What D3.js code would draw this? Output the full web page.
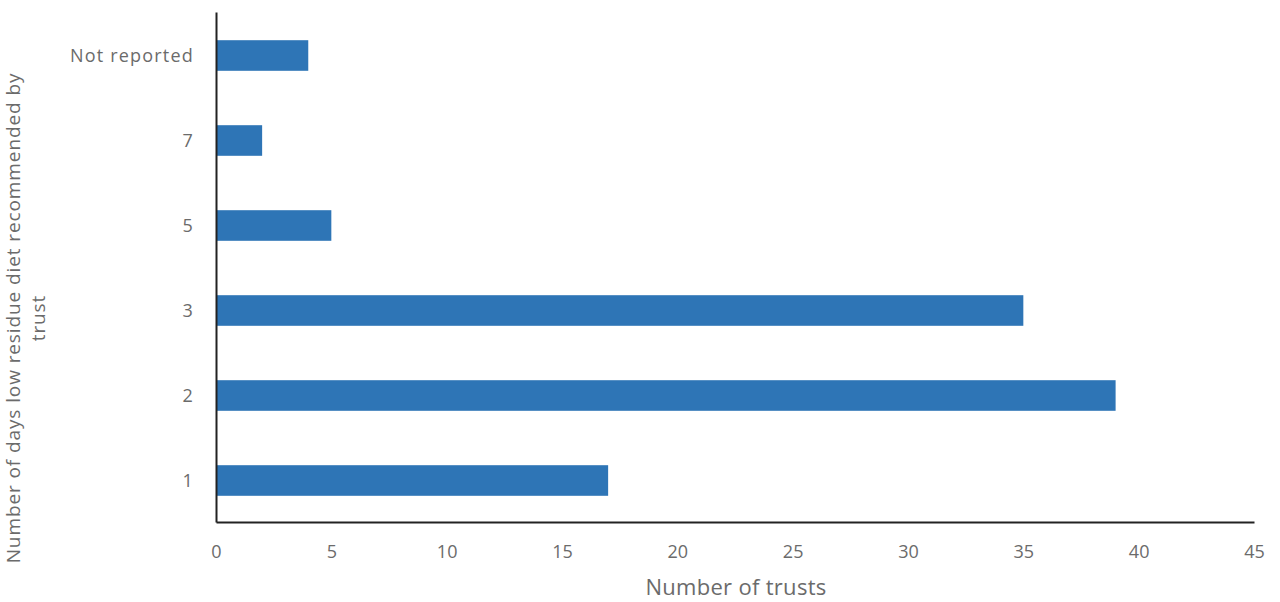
<!DOCTYPE html>
<html><head><meta charset="utf-8">
<script src="https://cdn.jsdelivr.net/npm/d3@7"></script>
<style>body{margin:0;background:#fff;} text{font-family:"Open Sans",sans-serif;}</style>
</head><body><svg id="c" width="1280" height="602"></svg>
<script>
const categories = ["Not reported","7","5","3","2","1"];
const values = [4,2,5,35,39,17];
const xTicks = [0,5,10,15,20,25,30,35,40,45];

const svg = d3.select("#c");
const m = {left:216, right:1254, top:12, bottom:522};
const x = d3.scaleLinear().domain([0,45]).range([m.left, m.right]);
const y = d3.scaleBand().domain(categories).range([m.top, m.bottom]).paddingInner(0.64).paddingOuter(0.32);

svg.selectAll("rect.bar").data(categories).join("rect")
  .attr("class","bar")
  .attr("x", x(0))
  .attr("y", d=>y(d)+1)
  .attr("width", (d,i)=>x(values[i])-x(0))
  .attr("height", y.bandwidth())
  .attr("fill","#2e75b6");

const xa = svg.append("g").attr("transform",`translate(0,${m.bottom})`)
  .call(d3.axisBottom(x).tickValues(xTicks).tickSize(0).tickPadding(23));
xa.select(".domain").attr("stroke","#222").attr("stroke-width",2);
xa.selectAll("text").attr("font-size",18).attr("fill","#6b6b6b").attr("font-family","Open Sans");

const ya = svg.append("g").attr("transform",`translate(${m.left},0)`)
  .call(d3.axisLeft(y).tickSize(0).tickPadding(22));
ya.select(".domain").attr("stroke","#222").attr("stroke-width",2);
ya.selectAll("text").attr("font-size",18).attr("fill","#6b6b6b").attr("font-family","Open Sans")
  .attr("letter-spacing",1.2).attr("dy","0.4em");

svg.append("text").attr("x",736).attr("y",595).attr("text-anchor","middle")
  .attr("font-size",22).attr("letter-spacing",0.3).attr("fill","#6b6b6b").text("Number of trusts");

const yt = svg.append("text").attr("transform","translate(20,318) rotate(-90)")
  .attr("text-anchor","middle").attr("font-size",19).attr("letter-spacing",0.9).attr("fill","#6b6b6b");
yt.append("tspan").attr("x",0).attr("dy",0).text("Number of days low residue diet recommended by");
yt.append("tspan").attr("x",0).attr("dy",25).text("trust");
</script></body></html>
